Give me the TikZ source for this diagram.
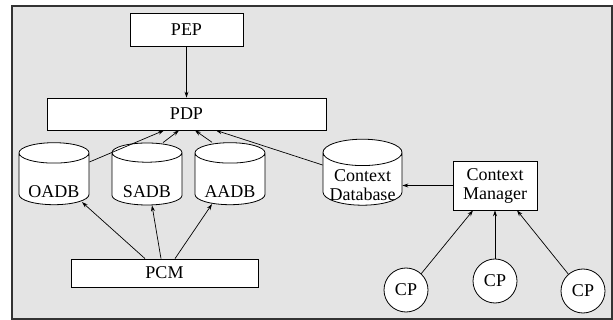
\documentclass[tikz,border=0pt]{standalone}
\usepackage{fontspec}
\setmainfont{Liberation Serif}
\usetikzlibrary{shapes.geometric,arrows.meta}
\definecolor{panelgray}{RGB}{228,228,228}

\begin{document}
\begin{tikzpicture}[x=1pt,y=-1pt,
    every node/.style={font=\fontsize{18}{19}\selectfont},
    box/.style={draw,fill=white,line width=0.8pt,inner sep=0pt},
    dbase/.style={cylinder,shape border rotate=90,draw,fill=white,line width=0.8pt,
        aspect=0.4,inner sep=0pt,align=center},
    dbtext/.style={inner sep=0pt,align=center},
    cpnode/.style={circle,draw,fill=white,line width=0.8pt,inner sep=0pt,minimum size=44pt},
    link/.style={-{Stealth[length=6pt,width=4pt]},line width=0.7pt}]
    \useasboundingbox (0,0) rectangle (613,320);
    \draw[fill=panelgray,line width=1.2pt,draw=black!80] (12,6) rectangle (612,319);

    % policy side
    \node[box,minimum width=113pt,minimum height=33pt] (pep) at (186.5,30) {PEP};
    \node[box,minimum width=279pt,minimum height=32pt] (pdp) at (186.5,114) {PDP};
    \node[box,minimum width=187pt,minimum height=28pt] (pcm) at (164.5,273) {PCM};
    \node[dbase,minimum width=70pt,minimum height=62pt] (oadb) at (54,179) {\phantom{OADB}};
    \node[dbase,minimum width=70pt,minimum height=62pt] (sadb) at (147,179) {\phantom{SADB}};
    \node[dbase,minimum width=70pt,minimum height=62pt] (aadb) at (230,179) {\phantom{AADB}};
    \node[dbtext] (oadb-txt) at (54,192) {OADB};
    \node[dbtext] (sadb-txt) at (147,192) {SADB};
    \node[dbtext] (aadb-txt) at (230,192) {AADB};

    % context side
    \node[dbase,minimum width=79pt,minimum height=66pt] (cdb) at (362.5,179) {\phantom{Database}};
    \node[dbtext] (cdb-txt) at (362.5,185) {Context\\Database};
    \node[box,minimum width=84pt,minimum height=49pt,align=center] (cm) at (495,185.5) {Context\\Manager};
    \node[cpnode] (cpa) at (406,290) {CP};
    \node[cpnode] (cpb) at (495,281) {CP};
    \node[cpnode] (cpc) at (583,291) {CP};

    \draw[link] (pep) -- (pdp);
    \draw[link] ([yshift=17pt]oadb.east) -- ([xshift=-22.5pt]pdp.south);
    \draw[link] ([xshift=16pt]sadb.north) -- ([xshift=-7.5pt]pdp.south);
    \draw[link] ([xshift=-18pt]aadb.north) -- ([xshift=8.5pt]pdp.south);
    \draw[link] ([yshift=14pt]cdb.west) -- ([xshift=29.5pt]pdp.south);
    \draw[link] ([xshift=-19.5pt]pcm.north) -- ([xshift=28pt,yshift=3pt]oadb.south);
    \draw[link] ([xshift=-3.5pt]pcm.north) -- ([xshift=5pt]sadb.south);
    \draw[link] ([xshift=10.5pt]pcm.north) -- ([xshift=-18pt,yshift=1pt]aadb.south);
    \draw[link] (cm.west) -- (cm.west -| cdb.east);
    \draw[link] (cpa.47) -- ([xshift=-22pt]cm.south);
    \draw[link] (cpb) -- (cm);
    \draw[link] (cpc.131) -- ([xshift=22pt]cm.south);
\end{tikzpicture}
\end{document}
